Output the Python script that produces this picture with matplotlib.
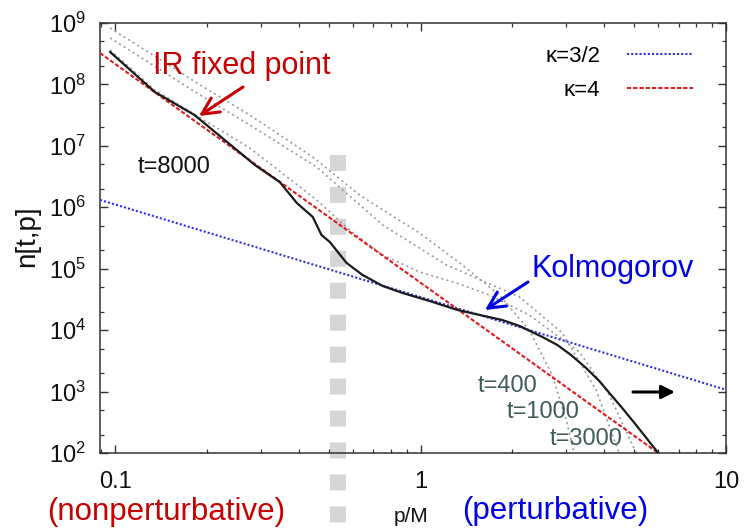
import matplotlib
matplotlib.use("Agg")
import matplotlib.pyplot as plt
import numpy as np
from matplotlib.ticker import LogLocator, NullFormatter

plt.rcParams['font.family'] = ['Liberation Sans', 'DejaVu Sans']
plt.rcParams['mathtext.fontset'] = 'custom'
plt.rcParams['mathtext.rm'] = 'Liberation Sans'
plt.rcParams['mathtext.it'] = 'Liberation Sans:italic'
plt.rcParams['mathtext.default'] = 'regular'

# --- data ----------------------------------------------------------------
# t=8000 (solid black)
p_8000 = [0.0964, 0.135, 0.182, 0.287, 0.346, 0.394, 0.444, 0.474, 0.505, 0.536,
          0.573, 0.646, 0.752, 0.873, 1.069, 1.321, 1.854, 2.109, 2.506, 2.806,
          3.111, 3.483, 3.846, 4.207, 4.603, 5.045, 5.521, 5.998]
n_8000 = [3.37e8, 7.53e7, 3.18e7, 4.88e6, 2.58e6, 1.17e6, 6.95e5, 3.54e5, 2.72e5, 1.87e5,
          1.24e5, 7.91e4, 5.24e4, 4.03e4, 2.99e4, 2.13e4, 1.46e4, 1.17e4, 7.74e3, 5.73e3,
          3.93e3, 2.42e3, 1.49e3, 879, 520, 297, 169, 100]

# earlier times (grey dotted)
p_400 = [0.0964, 0.190, 0.276, 0.444, 0.632, 0.993, 1.371, 1.811, 2.270, 2.698, 3.000, 3.184]
n_400 = [8.30e8, 9.80e7, 3.18e7, 6.59e6, 1.58e6, 3.81e5, 1.15e5, 3.73e4, 1.00e4, 1.86e3, 344, 100]

p_1000 = [0.0964, 0.190, 0.276, 0.457, 0.752, 1.216, 2.109, 2.911, 3.758, 4.467]
n_1000 = [5.70e8, 6.73e7, 2.19e7, 4.53e6, 5.15e5, 1.15e5, 3.47e4, 9.0e3, 1.06e3, 100]

p_3000 = [0.0964, 0.135, 0.276, 0.457, 0.586, 0.752, 0.993, 1.312, 1.679, 2.270, 3.311, 4.150, 5.082]
n_3000 = [3.63e8, 8.11e7, 9.23e6, 1.32e6, 4.27e5, 1.67e5, 8.85e4, 5.86e4, 3.73e4, 1.76e4, 4.41e3, 879, 100]

# power-law guides (end points)
p_k32 = [0.0893, 10.0]
n_k32 = [1.32e6, 1.07e3]
p_k4 = [0.0893, 6.0]
n_k4 = [3.24e8, 100]

p_split = 0.536  # boundary nonperturbative / perturbative

x_ticks = [0.1, 1, 10]
x_ticklabels = ['0.1', '1', '10']
y_ticks = [1e2, 1e3, 1e4, 1e5, 1e6, 1e7, 1e8, 1e9]

# --- figure --------------------------------------------------------------
fig = plt.figure(figsize=(7.52, 5.30), dpi=100)
ax = fig.add_axes([100 / 752, 77 / 530, 626 / 752, 430 / 530])
ax.set_xscale('log')
ax.set_yscale('log')
ax.set_xlim(0.0893, 10)
ax.set_ylim(1e2, 1e9)

# thick grey dashed separator (runs below the axes)
ax.plot([p_split, p_split], [0.693, -0.2], transform=ax.get_xaxis_transform(),
        color='#d6d6d6', lw=11.5, linestyle=(0, (1.0, 1.0)),
        solid_capstyle='butt', dash_capstyle='butt', clip_on=False, zorder=1)

grey_style = dict(color='#999999', lw=1.2, linestyle=(0, (1.2, 2.0)), zorder=2)
ax.plot(p_400, n_400, **grey_style)
ax.plot(p_1000, n_1000, **grey_style)
ax.plot(p_3000, n_3000, **grey_style)

ax.plot(p_k32, n_k32, color='#3030e0', lw=1.5, linestyle=(0, (1, 1)),
        label='κ=3/2', zorder=3)
ax.plot(p_k4, n_k4, color='#e31a1c', lw=1.5, linestyle=(0, (2, 1)),
        label='κ=4', zorder=3)
ax.plot(p_8000, n_8000, color='#1a1a1a', lw=1.6, zorder=4)

# axes styling (gnuplot look)
for s in ax.spines.values():
    s.set_linewidth(1.1)
    s.set_color('#333333')
ax.set_xticks(x_ticks)
ax.set_xticklabels(x_ticklabels)
ax.set_yticks(y_ticks)
ax.xaxis.set_minor_locator(LogLocator(base=10, subs=np.arange(2, 10), numticks=20))
ax.yaxis.set_minor_locator(LogLocator(base=10, subs=(2, 5), numticks=20))
ax.xaxis.set_minor_formatter(NullFormatter())
ax.yaxis.set_minor_formatter(NullFormatter())
ax.tick_params(which='both', direction='in', top=True, right=True, colors='#333333')
ax.tick_params(which='major', length=6, width=1.0, labelsize=17, labelcolor='#111111')
ax.tick_params(which='minor', length=3, width=0.9)
ax.tick_params(axis='x', which='major', pad=13)
ax.tick_params(axis='y', which='major', pad=10)

ax.set_xlabel('p/M', fontsize=15, color='#111111')
ax.xaxis.set_label_coords(0.497, -0.126)
ax.set_ylabel('n[t,p]', fontsize=20, color='#111111')
ax.yaxis.set_label_coords(-0.096, 0.505)

leg = ax.legend(loc='upper right', bbox_to_anchor=(693 / 752, 0.913),
                bbox_transform=fig.transFigure, frameon=False, markerfirst=False,
                fontsize=16, handlelength=2.97, handletextpad=1.2,
                labelspacing=0.58, borderpad=0, borderaxespad=0)

# --- annotations ----------------------------------------------------------
red = '#c80000'
blue = '#0000e8'
slate = '#3d5c5a'

fig.text(153 / 752, 456 / 530, 'IR fixed point', color=red, fontsize=22,
         ha='left', va='baseline')
ax.annotate('', xy=(199, 414), xytext=(243, 443), xycoords='figure pixels',
            textcoords='figure pixels',
            arrowprops=dict(arrowstyle='->', color=red, lw=2.2, mutation_scale=30,
                            shrinkA=0, shrinkB=0))
fig.text(138 / 752, 357 / 530, 't=8000', color='#111111', fontsize=17,
         ha='left', va='baseline')

fig.text(532 / 752, 253 / 530, 'Kolmogorov', color=blue, fontsize=22,
         ha='left', va='baseline')
ax.annotate('', xy=(485, 220), xytext=(528, 248), xycoords='figure pixels',
            textcoords='figure pixels',
            arrowprops=dict(arrowstyle='->', color=blue, lw=2.2, mutation_scale=30,
                            shrinkA=0, shrinkB=0))

fig.text(478 / 752, 138 / 530, 't=400', color=slate, fontsize=17, ha='left', va='baseline')
fig.text(507 / 752, 112 / 530, 't=1000', color=slate, fontsize=17, ha='left', va='baseline')
fig.text(550 / 752, 85 / 530, 't=3000', color=slate, fontsize=17, ha='left', va='baseline')

ax.annotate('', xy=(675, 138), xytext=(633, 138), xycoords='figure pixels',
            textcoords='figure pixels',
            arrowprops=dict(arrowstyle='-|>', color='black', lw=2.2, mutation_scale=20,
                            shrinkA=0, shrinkB=0))

fig.text(47 / 752, 10 / 530, '(nonperturbative)', color=red, fontsize=22.5,
         ha='left', va='baseline')
fig.text(462 / 752, 11 / 530, '(perturbative)', color=blue, fontsize=22.5,
         ha='left', va='baseline')

fig.savefig('out.png', dpi=100)
